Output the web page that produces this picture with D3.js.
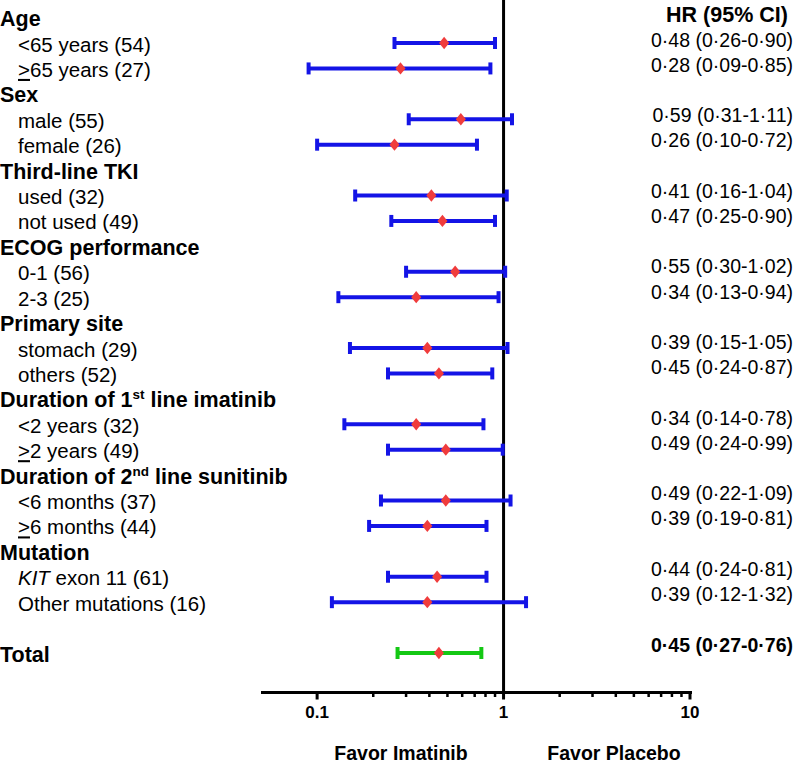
<!DOCTYPE html>
<html>
<head>
<meta charset="utf-8">
<script src="https://cdn.jsdelivr.net/npm/d3@7"></script>
<style>
  body { margin: 0; background: #fff; }
  svg text { font-family: "Liberation Sans", Arial, sans-serif; fill: #000; }
</style>
</head>
<body>
<svg id="chart" width="800" height="763"></svg>
<script>
"use strict";

// row labels; type h = group header, s = subgroup, t = total, gap = blank row
var row_types = ["h","s","s","h","s","s","h","s","s","h","s","s","h","s","s","h","s","s","h","s","s","h","s","s","gap","t"];
var row_labels = [
  "Age", "<65 years (54)", ">65 years (27)",
  "Sex", "male (55)", "female (26)",
  "Third-line TKI", "used (32)", "not used (49)",
  "ECOG performance", "0-1 (56)", "2-3 (25)",
  "Primary site", "stomach (29)", "others (52)",
  "Duration of 1st line imatinib", "<2 years (32)", ">2 years (49)",
  "Duration of 2nd line sunitinib", "<6 months (37)", ">6 months (44)",
  "Mutation", "KIT exon 11 (61)", "Other mutations (16)",
  "", "Total"
];
var hr = [null,0.48,0.28,null,0.59,0.26,null,0.41,0.47,null,0.55,0.34,null,0.39,0.45,null,0.34,0.49,null,0.49,0.39,null,0.44,0.39,null,0.45];
var ci_low = [null,0.26,0.09,null,0.31,0.10,null,0.16,0.25,null,0.30,0.13,null,0.15,0.24,null,0.14,0.24,null,0.22,0.19,null,0.24,0.12,null,0.27];
var ci_high = [null,0.90,0.85,null,1.11,0.72,null,1.04,0.90,null,1.02,0.94,null,1.05,0.87,null,0.78,0.99,null,1.09,0.81,null,0.81,1.32,null,0.76];
var x_ticks = [0.1, 1, 10];

var svg = d3.select("#chart");

var x = d3.scaleLog().domain([0.05, 10]).range([261, 690]);
var y = d3.scaleLinear().domain([0, 25]).range([17.6, 653]);       // bars
var y_right = d3.scaleLinear().domain([1, 25]).range([46.5, 651.5]); // HR text baselines

function fmt(v) {
  return v.toFixed(2).replace(".", "\u00b7");
}

// vertical reference line at HR = 1
svg.append("line")
  .attr("x1", x(1)).attr("x2", x(1))
  .attr("y1", 0).attr("y2", 692)
  .attr("stroke", "#000").attr("stroke-width", 3);

// axis
var axis_g = svg.append("g").attr("transform", "translate(0,692.5)");
axis_g.append("line")
  .attr("x1", 261).attr("x2", 692)
  .attr("stroke", "#000").attr("stroke-width", 3);

var minor = [];
[0.1, 1].forEach(function (base) {
  for (var k = 2; k <= 9; k++) minor.push(base * k);
});
axis_g.selectAll(".minor").data(minor).enter().append("line")
  .attr("class", "minor")
  .attr("x1", function (d) { return x(d); })
  .attr("x2", function (d) { return x(d); })
  .attr("y1", 0).attr("y2", 4.5)
  .attr("stroke", "#000").attr("stroke-width", 2.5);
axis_g.selectAll(".major").data(x_ticks).enter().append("line")
  .attr("class", "major")
  .attr("x1", function (d) { return x(d); })
  .attr("x2", function (d) { return x(d); })
  .attr("y1", 0).attr("y2", 7)
  .attr("stroke", "#000").attr("stroke-width", 3);
axis_g.selectAll(".tick_label").data(x_ticks).enter().append("text")
  .attr("class", "tick_label")
  .attr("x", function (d) { return x(d); })
  .attr("y", 25)
  .attr("text-anchor", "middle")
  .attr("font-size", "17px")
  .attr("font-weight", "bold")
  .text(function (d) { return d; });

svg.append("text").attr("x", 401).attr("y", 760).attr("text-anchor", "middle")
  .attr("font-size", "19.5px").attr("font-weight", "bold").text("Favor Imatinib");
svg.append("text").attr("x", 614).attr("y", 760).attr("text-anchor", "middle")
  .attr("font-size", "19.5px").attr("font-weight", "bold").text("Favor Placebo");

// left labels
var rows = d3.range(row_labels.length);
rows.forEach(function (i) {
  var type = row_types[i], label = row_labels[i];
  if (type === "gap") return;
  var t = svg.append("text")
    .attr("y", y(i) + 8.5)
    .attr("x", type === "s" ? 18 : 0)
    .attr("font-size", type === "s" ? "20.5px" : "21.5px")
    .attr("font-weight", type === "s" ? "normal" : "bold");
  var sup = label.match(/^(Duration of \d)(st|nd)( .*)$/);
  if (sup) {
    t.append("tspan").text(sup[1]);
    t.append("tspan").attr("font-size", "13.5px").attr("dy", -8).text(sup[2]);
    t.append("tspan").attr("dy", 8).text(sup[3]);
  } else if (label.charAt(0) === ">") {
    t.append("tspan").attr("text-decoration", "underline").text(">");
    t.append("tspan").text(label.slice(1));
  } else if (label.indexOf("KIT") === 0) {
    t.append("tspan").attr("font-style", "italic").text("KIT");
    t.append("tspan").text(label.slice(3));
  } else {
    t.text(label);
  }
});

// right column
svg.append("text").attr("x", 727).attr("y", 22).attr("text-anchor", "middle")
  .attr("font-size", "21.5px").attr("font-weight", "bold").text("HR (95% CI)");

var est = rows.filter(function (i) { return hr[i] !== null; });

svg.selectAll(".hr_text").data(est).enter().append("text")
  .attr("class", "hr_text")
  .attr("x", 793)
  .attr("y", function (i) { return y_right(i); })
  .attr("text-anchor", "end")
  .attr("font-size", "19.5px")
  .attr("font-weight", function (i) { return row_types[i] === "t" ? "bold" : "normal"; })
  .text(function (i) { return fmt(hr[i]) + " (" + fmt(ci_low[i]) + "-" + fmt(ci_high[i]) + ")"; });

// CI bars
var bars = svg.selectAll(".ci").data(est).enter().append("g")
  .attr("class", "ci")
  .attr("stroke", function (i) { return row_types[i] === "t" ? "#14c814" : "#1414e6"; })
  .attr("stroke-width", 4);
bars.append("line")
  .attr("x1", function (i) { return x(ci_low[i]); })
  .attr("x2", function (i) { return x(ci_high[i]); })
  .attr("y1", function (i) { return y(i); })
  .attr("y2", function (i) { return y(i); });
bars.append("line")
  .attr("x1", function (i) { return x(ci_low[i]); })
  .attr("x2", function (i) { return x(ci_low[i]); })
  .attr("y1", function (i) { return y(i) - 6; })
  .attr("y2", function (i) { return y(i) + 6; });
bars.append("line")
  .attr("x1", function (i) { return x(ci_high[i]); })
  .attr("x2", function (i) { return x(ci_high[i]); })
  .attr("y1", function (i) { return y(i) - 6; })
  .attr("y2", function (i) { return y(i) + 6; });

// point estimates
svg.selectAll(".pt").data(est).enter().append("path")
  .attr("class", "pt")
  .attr("d", d3.symbol().type(d3.symbolDiamond2).size(80))
  .attr("transform", function (i) { return "translate(" + x(hr[i]) + "," + y(i) + ") scale(0.9,1.1)"; })
  .attr("fill", "#f03c3c");
</script>
</body>
</html>
